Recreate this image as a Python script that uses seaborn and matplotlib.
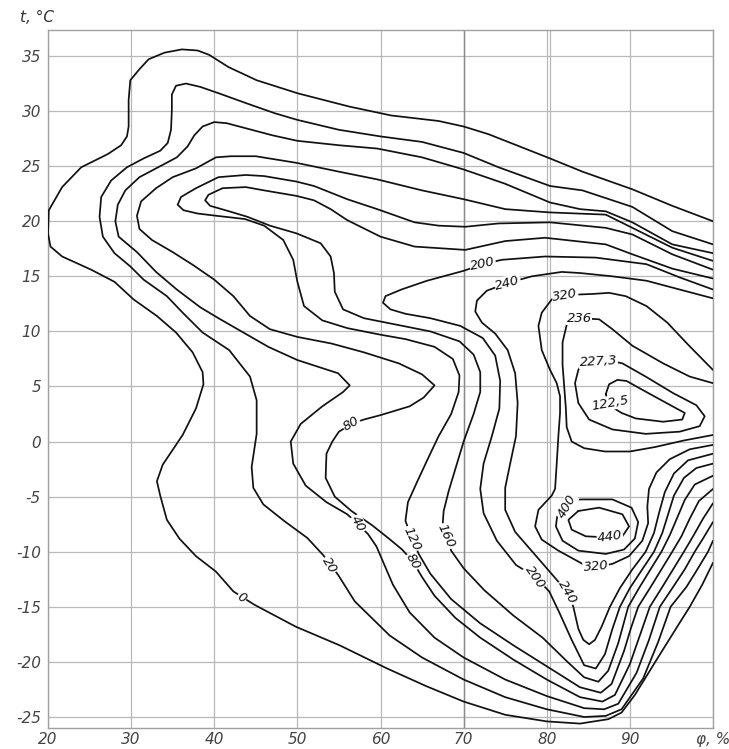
import pandas as pd
import seaborn as sns
import matplotlib.pyplot as plt

# isolines: (phi %, t degC) pairs, in drawing order
curve_0 = [(100, -11.0), (98.7, -13.0), (97.2, -15.0), (95.7, -16.8), (93.3, -19.7), (90.6, -23.0), (89, -24.6),
           (87.4, -25.2), (84, -25.6), (80, -25.4), (75, -24.8), (70, -23.6), (65.5, -22.2), (60.8, -20.6),
           (55.1, -18.5), (49.8, -16.8), (44.8, -14.8), (42.3, -13.6), (40.2, -11.8), (37.8, -10.4), (35.8, -8.8),
           (34.3, -7.1), (33.5, -4.9), (33.1, -3.6), (33.8, -2.1), (36.2, 0.6), (37.8, 3.0), (38.7, 5.2),
           (38.6, 6.3), (37.4, 8.1), (35.4, 9.9), (33.1, 11.4), (30.3, 12.9), (28.0, 14.5), (25.2, 15.6),
           (21.7, 16.8), (20.3, 17.7), (20.0, 18.9), (20.1, 21.0), (21.7, 23.1), (24.0, 24.9), (27.2, 26.1),
           (28.8, 26.9), (29.5, 27.7), (29.7, 28.6), (29.7, 31.0), (29.9, 32.8), (31, 33.8), (32.1, 34.7),
           (34, 35.3), (36.1, 35.6), (38, 35.5), (39.4, 35.1), (41.7, 34.0), (45.1, 32.8), (50.1, 31.6),
           (56.3, 30.4), (61.3, 29.6), (67, 29.1), (70, 28.6), (73, 27.9), (80.4, 25.7), (84.3, 24.5),
           (90.3, 22.9), (95.1, 21.4), (100, 20.0)]

curve_20 = [(100, -9.0), (99.4, -10.0), (98.2, -11.5), (96.8, -13.2), (94.9, -15.0), (93.4, -18.2), (91.6, -21.5),
            (89.0, -24.3), (87.1, -24.9), (84.5, -25.0), (80, -24.3), (75, -23.2), (70, -21.6), (65, -19.6),
            (61.1, -17.6), (56.9, -14.5), (54.9, -12.1), (53.1, -10.3), (51.2, -8.75), (48.4, -7.2), (45.9, -5.7),
            (44.7, -4.2), (44.5, -2.3), (45.1, 0.7), (45.1, 3.75), (44.3, 5.9), (41.8, 8.3), (38.6, 9.9),
            (36.2, 11.7), (34.3, 13.2), (31.5, 14.7), (29.9, 15.9), (28.0, 17.1), (26.6, 18.6), (26.2, 20.4),
            (26.4, 22.2), (27.6, 23.7), (29.5, 24.9), (31.5, 25.7), (33.5, 26.4), (34.4, 27.1), (34.8, 28.3),
            (34.9, 30.1), (34.9, 31.5), (35.4, 32.3), (36.6, 32.5), (38.3, 32.2), (40.6, 31.6), (43.9, 30.7),
            (47.3, 29.8), (50, 29.2), (55, 28.3), (60, 27.7), (65, 27.2), (70, 26.2), (74.2, 24.9), (80.4, 23.2),
            (84.3, 22.8), (90.3, 21.3), (95.1, 19.1), (100, 17.9)]

curve_40 = [(100, -7.3), (98.8, -8.8), (97.8, -10.0), (96.6, -11.6), (95.2, -13.2), (93.6, -15.0), (92.3, -18.0),
            (90.8, -21.0), (88.6, -23.8), (86.9, -24.3), (84.5, -24.2), (80, -23.1), (75, -21.6), (70, -19.6),
            (66.5, -17.8), (63.5, -15.5), (61.5, -13.0), (60.3, -10.9), (59.5, -9.5), (58.5, -8.4), (57.3, -7.5),
            (56.0, -6.6), (53.5, -5.5), (51.0, -4.0), (49.5, -2.0), (49.2, 0.0), (50.4, 1.6), (53.0, 3.2),
            (55.5, 4.5), (56.3, 5.1), (54.9, 6.2), (50.0, 7.4), (46.5, 8.6), (43.5, 9.9), (40.5, 11.2),
            (38.3, 12.2), (35.5, 13.8), (33.0, 15.4), (30.7, 17.2), (28.5, 18.6), (28.1, 20.0), (28.4, 21.5),
            (29.3, 22.8), (31.0, 24.0), (33.5, 25.0), (35.5, 25.8), (36.8, 26.8), (37.6, 27.8), (38.6, 28.6),
            (40.0, 29.0), (41.5, 28.9), (44, 28.4), (47, 27.8), (50, 27.3), (55, 26.9), (59.6, 26.6), (65, 25.8),
            (70, 24.7), (75, 23.4), (80.4, 21.7), (84, 21.1), (87.1, 20.9), (90.3, 19.9), (95.1, 17.9), (100, 17.1)]

curve_80 = [(100, -5.6), (98.8, -7.0), (97.6, -8.6), (96.5, -10.0), (95.2, -11.6), (93.9, -13.2), (92.4, -15.0),
            (91.2, -17.6), (90.0, -20.2), (88.2, -23.0), (86.7, -23.6), (84, -23.2), (80, -21.6), (76, -19.8),
            (72, -17.8), (69, -16.0), (66.5, -14.0), (65, -12.3), (63.9, -10.9), (62.6, -9.8), (61, -8.8),
            (59, -7.6), (56.5, -6.3), (54.5, -5.0), (53.4, -3.3), (53.5, -1.1), (54.2, 0.0), (55, 0.9),
            (56.5, 1.6), (58, 2.0), (60, 2.4), (63.5, 3.2), (65.2, 4.0), (66.5, 5.1), (65, 6.1), (62.2, 7.1),
            (58, 8.1), (54.1, 8.9), (50, 9.5), (46.7, 10.2), (44.3, 11.4), (42.3, 13.2), (40, 14.7), (37.5, 16.0),
            (35, 17.2), (32.5, 18.3), (31.0, 19.3), (30.7, 20.5), (31.2, 21.8), (33, 23.0), (35, 24.0),
            (37.8, 24.8), (40.2, 25.8), (42, 25.9), (45, 25.9), (49.9, 25.3), (55, 24.5), (59.6, 23.8),
            (65, 22.8), (70, 22.0), (75, 21.1), (80.4, 20.8), (87.1, 20.6), (90.3, 19.4), (95.1, 17.6), (100, 16.4)]

curve_120 = [(100, -4.3), (98.3, -5.4), (97.2, -7.0), (96.2, -8.6), (95.1, -10.0), (93.8, -11.6), (92.5, -13.2),
             (91.0, -15.0), (90.1, -17.0), (89.3, -19.0), (87.8, -22.0), (86.5, -22.8), (84, -22.3), (80, -20.4),
             (76, -18.5), (72, -16.5), (68.5, -14.3), (66, -12.0), (64.6, -10.2), (63.8, -8.8), (63.0, -7.2),
             (63.3, -5.5), (64.5, -3.5), (65.8, -1.4), (67, 0.5), (68.5, 2.5), (69.4, 4.5), (69.5, 6.0),
             (68.7, 7.5), (66.5, 8.6), (63, 9.3), (60, 9.7), (56, 10.3), (53, 11.0), (50.8, 12.3), (50, 14.5),
             (49.5, 16.5), (48.3, 18.3), (46, 19.6), (43.7, 20.2), (40.2, 20.5), (38, 20.7), (36.3, 21.0),
             (35.6, 21.5), (36.0, 22.2), (37.8, 23.0), (40.5, 24.0), (43.8, 24.2), (46, 24.1), (49.9, 23.6),
             (52, 23.2), (56, 22.0), (59.6, 21.1), (64.1, 19.9), (67, 19.6), (70.2, 19.5), (74.2, 19.8),
             (80.4, 19.9), (87.1, 19.4), (90.3, 18.8), (95.1, 17.0), (100, 15.6)]

curve_160 = [(100, -3.1), (97.8, -3.9), (96.6, -5.3), (95.7, -6.9), (94.8, -8.5), (93.8, -10.0), (92.4, -11.7),
             (91.1, -13.3), (89.8, -15.0), (88.6, -18.3), (87.4, -20.8), (86.2, -21.8), (84.5, -21.4),
             (82.5, -20.0), (79.5, -17.8), (76, -15.8), (72.5, -13.5), (70, -11.5), (68.5, -9.9), (67.9, -8.6),
             (67.5, -7.3), (67.6, -6.3), (68.2, -4.5), (69, -2.5), (70, 0.0), (71.2, 2.5), (72, 4.5), (72, 6.3),
             (71.2, 7.9), (69.5, 9.1), (66, 10.0), (62, 10.6), (58, 11.2), (55.5, 12.0), (54.5, 13.6),
             (54.4, 15.3), (54, 16.8), (52.8, 18.0), (49.9, 18.9), (46.7, 19.6), (44, 20.4), (41.8, 20.9),
             (39.5, 21.4), (38.9, 21.9), (39.3, 22.4), (41, 23.0), (43.8, 23.1), (46, 22.8), (49.9, 22.3),
             (52, 21.9), (54, 21.1), (56, 20.1), (60, 18.6), (64.1, 17.7), (70.2, 17.4), (75, 18.2), (79.8, 18.5),
             (87.1, 17.9), (90.3, 17.0), (95.1, 15.7), (100, 14.8)]

curve_200 = [(100, -2.0), (98, -2.4), (96.5, -3.3), (95.3, -4.9), (94.6, -6.6), (93.9, -8.3), (92.9, -10.0),
             (91.4, -11.7), (90.0, -13.3), (88.8, -15.0), (87.9, -17.0), (87.0, -19.3), (85.9, -20.6),
             (84.5, -20.3), (83, -18), (81.5, -15.5), (80.3, -13.6), (78.6, -12.3), (76.3, -11.2), (74, -9),
             (72.4, -6.5), (72, -4.3), (72.4, -2.0), (73.4, 0.5), (74.3, 3.0), (74.4, 5.5), (73.8, 7.8),
             (72.3, 9.4), (69.6, 10.5), (66, 11.2), (63, 11.6), (61.2, 12.0), (60.3, 12.6), (60.6, 13.2),
             (62.5, 13.8), (65.6, 14.6), (70, 15.5), (72.3, 16.1), (74.6, 16.5), (79.8, 16.8), (85.9, 16.7),
             (92, 16.1), (96, 14.9), (100, 13.8)]

curve_240 = [(100, -1.1), (97, -1.7), (95.3, -2.9), (94.2, -4.6), (93.5, -6.5), (92.9, -8.3), (91.9, -10.0),
             (90.3, -11.6), (88.8, -13.3), (87.6, -15.0), (86.6, -16.8), (85.8, -18.0), (85.1, -18.4),
             (84.4, -18.0), (83.8, -17.0), (83.2, -15.0), (82.5, -13.7), (80.8, -12.2), (78.5, -10.2),
             (76.2, -8.2), (75, -6.2), (75, -4.2), (75.6, -2.0), (76.3, 0.5), (76.5, 3.5), (76.2, 6.2),
             (75.3, 8.3), (73.8, 9.8), (72.2, 10.8), (71.4, 11.8), (71.6, 12.8), (72.8, 13.7), (75.3, 14.4),
             (78.2, 15.0), (81.8, 15.4), (84, 15.3), (87.9, 15.0), (92, 14.6), (96, 13.8), (100, 13.0)]

curve_320 = [(100, 6.5), (97, 8.8), (94.5, 10.8), (92, 12.3), (89.5, 13.2), (87.5, 13.5), (85.5, 13.4),
             (82.2, 13.3), (80.6, 12.9), (79.4, 11.7), (79, 10.5), (79.4, 8.3), (80.4, 6.5), (81.2, 5.3),
             (81.6, 4.1), (81.6, 2.6), (81.4, 0.5), (81.2, -2.0), (81.0, -4.3), (80.6, -4.9), (79.0, -6.2),
             (78.6, -7.7), (79.4, -8.9), (81.4, -9.9), (84.3, -11.1), (85.9, -11.4), (87.9, -11.1), (89.9, -10.4),
             (91.5, -9.0), (92.2, -7.4), (92.1, -5.9), (92.3, -4.3), (93.2, -2.8), (94.8, -1.6), (97.2, -0.7),
             (100, -0.3)]

curve_236 = [(100, 5.3), (97.2, 5.9), (94, 7.1), (90.3, 8.7), (87.9, 10.2), (86.3, 11.1), (83.9, 11.2),
             (82.4, 10.6), (81.9, 9.0), (81.9, 7.0), (82.1, 5.0), (82.3, 3.0), (82.4, 1.3), (83, 0.0),
             (84.5, -0.6), (87, -0.9), (90, -0.9), (93, -0.5), (96.5, 0.1), (100, 0.6)]

curve_227 = [(84.3, 7.1), (83.8, 6.5), (83.4, 5.3), (83.8, 3.5), (85.1, 2.0), (87.9, 1.1), (91.9, 0.7), (96, 0.9),
             (98.4, 1.4), (99, 2.3), (98, 3.3), (95.2, 4.4), (91.9, 5.9), (89.1, 7.1), (86.5, 7.5), (84.3, 7.1)]

curve_122 = [(87.1, 4.3), (87.5, 5.2), (88.5, 5.6), (89.6, 5.5), (91.5, 4.7), (94.4, 3.5), (96.6, 2.6),
             (96.3, 2.0), (94, 1.8), (90.7, 2.1), (89, 2.6), (87.5, 3.3), (87.1, 4.3)]

curve_400 = [(82.3, -5.3), (84.3, -5.25), (87.9, -5.25), (90.2, -6.0), (91.0, -7.3), (90.6, -8.8), (89.3, -9.8),
             (87.1, -10.2), (83.8, -9.9), (81.9, -9.0), (81.1, -7.7), (81.3, -6.5), (82.3, -5.3)]

curve_440 = [(83.8, -6.3), (86.3, -6.0), (89.1, -6.6), (89.9, -7.7), (89.1, -8.6), (87.5, -8.7), (84.7, -8.6),
             (83, -8.0), (82.6, -7.1), (83.8, -6.3)]

# contour labels: text, phi, t, rotation
label_text = ["0", "20", "40", "80", "80", "120", "160", "200", "240", "320", "236", "227,3", "122,5",
              "400", "440", "320", "200", "240"]
label_phi = [43.3, 53.9, 57.3, 56.5, 63.9, 63.8, 67.9, 72.3, 75.3, 82.2, 83.9, 86.2, 87.6, 82.4, 87.6, 85.9,
             78.6, 82.5]
label_t = [-14.2, -11.2, -7.5, 1.6, -10.9, -8.8, -8.6, 16.1, 14.4, 13.3, 11.2, 7.3, 3.5, -5.9, -8.6, -11.3,
           -12.3, -13.7]
label_rot = [-28, -58, -62, 30, -60, -65, -65, 12, 15, 10, 0, 3, 10, 60, 8, 5, -55, -60]

x_ticks = [20, 30, 40, 50, 60, 70, 80, 90, 100]
x_labels = ["20", "30", "40", "50", "60", "70", "80", "90", "φ, %"]
y_ticks = [-25, -20, -15, -10, -5, 0, 5, 10, 15, 20, 25, 30, 35]
y_labels = ["-25", "-20", "-15", "-10", "-5", "0", "5", "10", "15", "20", "25", "30", "35"]

curves = {"0": curve_0, "20": curve_20, "40": curve_40, "80": curve_80, "120": curve_120,
          "160": curve_160, "200": curve_200, "240": curve_240, "320": curve_320, "236": curve_236,
          "227.3": curve_227, "122.5": curve_122, "400": curve_400, "440": curve_440}

frames = []
for name, pts in curves.items():
    d = pd.DataFrame(pts, columns=["phi", "t"])
    d["curve"] = name
    frames.append(d)
df = pd.concat(frames, ignore_index=True)

sns.set_style("white")
plt.rcParams["font.family"] = ["DejaVu Sans"]

fig = plt.figure(figsize=(7.29, 7.49), dpi=100)
ax = fig.add_axes([48 / 729, 21 / 749, 665 / 729, 698 / 749])

sns.lineplot(data=df, x="phi", y="t", units="curve", estimator=None, sort=False,
             color="#111111", lw=1.25, legend=False, ax=ax, solid_joinstyle="round", zorder=3)

for txt, px, py, rot in zip(label_text, label_phi, label_t, label_rot):
    ax.text(px, py, txt, rotation=rot, ha="center", va="center", fontsize=9.5, style="italic",
            color="#111111", zorder=4, rotation_mode="anchor",
            bbox=dict(boxstyle="square,pad=0.05", fc="white", ec="none"))

ax.set_xlim(20, 100)
ax.set_ylim(-26, 37.36)
ax.set_xticks(x_ticks)
ax.set_xticklabels(x_labels)
ax.set_yticks(y_ticks)
ax.set_yticklabels(y_labels)
ax.grid(True, color="#b8b8b8", lw=0.9)
ax.axvline(70, color="#8a8a8a", lw=1.0, zorder=1)
ax.axvline(80.35, color="#b8b8b8", lw=0.9, zorder=1)
ax.tick_params(length=0, labelsize=11, colors="#444444")
ax.tick_params(axis="y", pad=5)
ax.tick_params(axis="x", pad=3)
for lab in ax.get_xticklabels() + ax.get_yticklabels():
    lab.set_style("italic")
for sp in ax.spines.values():
    sp.set_color("#a0a0a0")
    sp.set_linewidth(1.0)
ax.set_xlabel("")
ax.set_ylabel("")

fig.text(20 / 729, 1 - 18 / 749, "t, °C", fontsize=11, style="italic", color="#333333", va="center")

fig.savefig("out.png", dpi=100)
